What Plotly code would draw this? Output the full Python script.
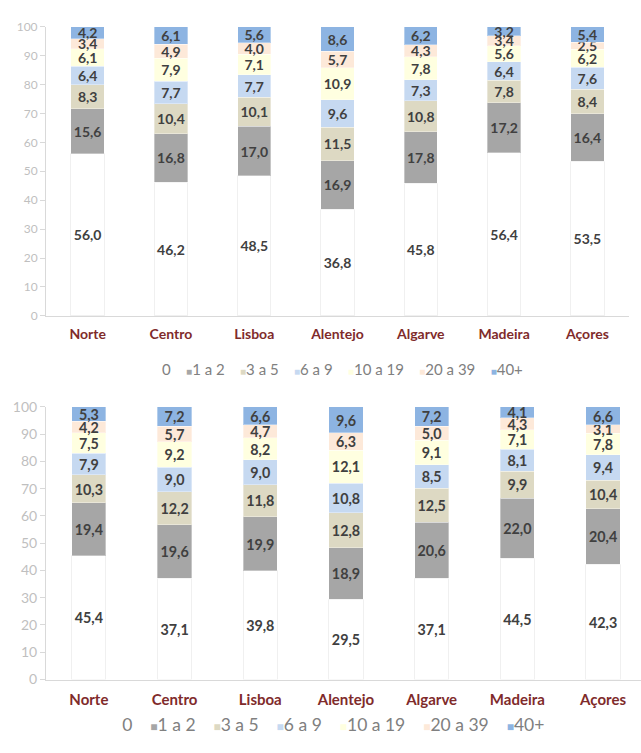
import plotly.graph_objects as go

# Regions and household-size classes
regions = ["Norte", "Centro", "Lisboa", "Alentejo", "Algarve", "Madeira", "Açores"]
classes = ["0", "1 a 2", "3 a 5", "6 a 9", "10 a 19", "20 a 39", "40+"]
colors = ["#ffffff", "#a6a6a6", "#ddd9c3", "#c6d9f1", "#ffffe0", "#fde9d9", "#8db4e2"]

# Upper chart (%)
top_0 = [56.0, 46.2, 48.5, 36.8, 45.8, 56.4, 53.5]
top_1_2 = [15.6, 16.8, 17.0, 16.9, 17.8, 17.2, 16.4]
top_3_5 = [8.3, 10.4, 10.1, 11.5, 10.8, 7.8, 8.4]
top_6_9 = [6.4, 7.7, 7.7, 9.6, 7.3, 6.4, 7.6]
top_10_19 = [6.1, 7.9, 7.1, 10.9, 7.8, 5.6, 6.2]
top_20_39 = [3.4, 4.9, 4.0, 5.7, 4.3, 3.4, 2.5]
top_40 = [4.2, 6.1, 5.6, 8.6, 6.2, 3.2, 5.4]

# Lower chart (%)
bot_0 = [45.4, 37.1, 39.8, 29.5, 37.1, 44.5, 42.3]
bot_1_2 = [19.4, 19.6, 19.9, 18.9, 20.6, 22.0, 20.4]
bot_3_5 = [10.3, 12.2, 11.8, 12.8, 12.5, 9.9, 10.4]
bot_6_9 = [7.9, 9.0, 9.0, 10.8, 8.5, 8.1, 9.4]
bot_10_19 = [7.5, 9.2, 8.2, 12.1, 9.1, 7.1, 7.8]
bot_20_39 = [4.2, 5.7, 4.7, 6.3, 5.0, 4.3, 3.1]
bot_40 = [5.3, 7.2, 6.6, 9.6, 7.2, 4.1, 6.6]

y_ticks = list(range(0, 101, 10))

top_series = [top_0, top_1_2, top_3_5, top_6_9, top_10_19, top_20_39, top_40]
bot_series = [bot_0, bot_1_2, bot_3_5, bot_6_9, bot_10_19, bot_20_39, bot_40]

W, H = 641, 753
LABEL = "#404040"
CAT = "#7f2b2b"
AXIS = "#d9d9d9"
TICK = "#bfbfbf"
FONT = "Lato"

fig = go.Figure()


def add_stack(series, xa, ya, size):
    for name, col, vals in zip(classes, colors, series):
        edge = "rgba(0,0,0,0.06)" if col == "#ffffff" else "rgba(255,255,255,0.35)"
        fig.add_trace(go.Bar(
            x=regions, y=vals, name=name, xaxis=xa, yaxis=ya,
            marker=dict(color=col, line=dict(color=edge, width=1)),
            texttemplate="%{y:.1f}", textposition="inside",
            insidetextanchor="middle", textangle=0,
            textfont=dict(family=FONT, size=size, color=LABEL, weight="bold"),
            showlegend=False, cliponaxis=False,
        ))


add_stack(top_series, "x", "y", 14)
add_stack(bot_series, "x2", "y2", 16)

# Plot areas in pixels
t_top, t_bot = 18, 314
b_top, b_bot = 407, 686
t_left, t_right = 46, 629
b_left, b_step = 46, 85.7


def py(p):
    return 1 - p / H


def y_axis(dom, anchor, size):
    return dict(domain=dom, anchor=anchor, range=[0, 100.001], tickvals=y_ticks,
                showgrid=False, zeroline=False, showline=True, linecolor=AXIS,
                linewidth=1, ticks="outside", ticklen=5, tickcolor=AXIS,
                tickfont=dict(family=FONT, size=size, color=TICK), fixedrange=True)


fig.update_layout(
    width=W, height=H, margin=dict(l=0, r=0, t=0, b=0),
    paper_bgcolor="white", plot_bgcolor="white",
    barmode="stack", bargap=0.6, separators=", ",
    uniformtext=dict(minsize=14, mode="show"),
    xaxis=dict(domain=[t_left / W, t_right / W], anchor="y", showline=True,
               linecolor=AXIS, linewidth=1, showgrid=False, ticks="outside",
               ticklen=5, tickcolor="rgba(0,0,0,0)",
               tickfont=dict(family=FONT, size=14, color=CAT, weight="bold"),
               range=[-0.5, 6.5]),
    yaxis=y_axis([py(t_bot), py(t_top)], "x", 12),
    xaxis2=dict(domain=[b_left / W, 1.0], anchor="y2", showline=True,
                linecolor=AXIS, linewidth=1, showgrid=False, ticks="outside",
                ticklen=6, tickcolor="rgba(0,0,0,0)",
                tickfont=dict(family=FONT, size=15, color=CAT, weight="bold"),
                range=[-0.5, -0.5 + (W - b_left) / b_step]),
    yaxis2=y_axis([py(b_bot), py(b_top)], "x2", 14),
)


def legend_text(sq_size, gap):
    parts = []
    for name, col in zip(classes, colors):
        parts.append(f"<span style='color:{col};font-size:{sq_size}px'>■</span>{name}")
    return ("\u00a0" * gap).join(parts)


fig.add_annotation(text=legend_text(10, 4), xref="paper", yref="paper",
                   x=339 / W, y=py(368), showarrow=False,
                   font=dict(family=FONT, size=15, color="#808080"))
fig.add_annotation(text=legend_text(12, 4), xref="paper", yref="paper",
                   x=329 / W, y=py(745), showarrow=False,
                   font=dict(family=FONT, size=17.5, color="#808080"))

fig.write_html("out.html")
